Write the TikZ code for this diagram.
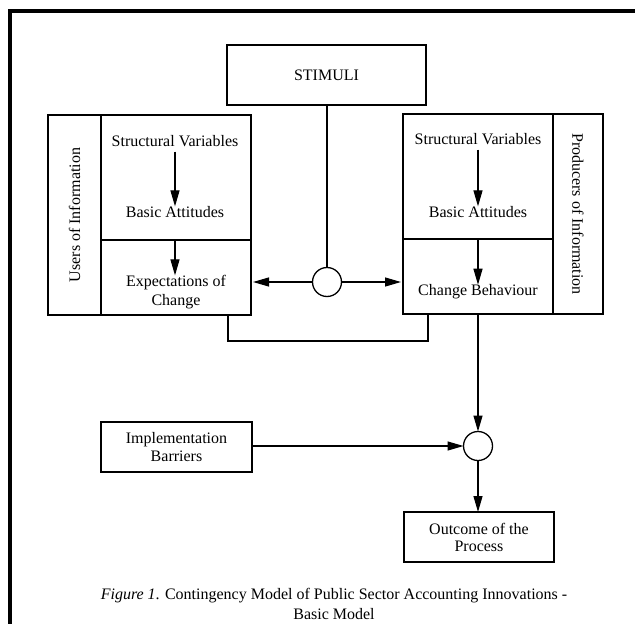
\documentclass[tikz,border=0pt]{standalone}
\usepackage{fontspec}
\setmainfont{Liberation Serif}
\usetikzlibrary{arrows.meta}
\begin{document}
\begin{tikzpicture}[x=1pt,y=-1pt,
  every node/.style={inner sep=0pt,outer sep=0pt},
  boxtxt/.style={font=\fontsize{16}{18.5}\selectfont,align=center},
  frame/.style={draw,line width=1.3pt,rectangle,anchor=north west},
  line/.style={line width=1.2pt},
  arr/.style={line width=1.2pt,-{Triangle[length=16pt,width=9pt]}},
  junction/.style={draw,line width=1.3pt,circle,minimum size=29pt,fill=white}]
\useasboundingbox (0,0) rectangle (635,624);
\fill[white] (0,0) rectangle (635,624);
\draw[line width=4pt,line join=miter] (10,624) -- (10,11) -- (635,11);

% STIMULI
\node[frame,minimum width=199pt,minimum height=60pt] (stimbox) at (227,45) {};
\node[boxtxt] (stim) at (stimbox.center) {STIMULI};

% left group
\node[frame,minimum width=53pt,minimum height=200pt] (lusers) at (48,115) {};
\node[boxtxt,rotate=90] (lusertxt) at (lusers.center) {Users of Information};
\node[frame,minimum width=150pt,minimum height=125pt] (ltop) at (101,115) {};
\node[frame,minimum width=150pt,minimum height=75pt] (lbot) at (101,240) {};
\node[boxtxt] (lsv) at (175,141) {Structural Variables};
\node[boxtxt] (lba) at (175,212) {Basic Attitudes};
\node[boxtxt] (lexp) at (176,292) {Expectations of\\Change};

% right group
\node[frame,minimum width=150pt,minimum height=125pt] (rtop) at (403,114) {};
\node[frame,minimum width=150pt,minimum height=75pt] (rbot) at (403,239) {};
\node[frame,minimum width=50pt,minimum height=200pt] (rprod) at (553,114) {};
\node[boxtxt,rotate=-90] (rprodtxt) at (rprod.center) {Producers of Information};
\node[boxtxt] (rsv) at (478,139) {Structural Variables};
\node[boxtxt] (rba) at (478,212) {Basic Attitudes};
\node[boxtxt] (rchg) at (478,292) {Change Behaviour};

% junctions
\node[junction] (c1) at (327,282) {};
\node[junction] (c2) at (478,446) {};

% lower boxes
\node[frame,minimum width=151pt,minimum height=50pt] (implbox) at (101,422) {};
\node[boxtxt] (impl) at (implbox.center) {Implementation\\Barriers};
\node[frame,minimum width=150pt,minimum height=50pt] (outbox) at (404,512) {};
\node[boxtxt,font=\fontsize{16}{17}\selectfont] (out) at (outbox.center) {Outcome of the\\Process};

% caption
\node[font=\fontsize{16}{19.5}\selectfont,align=center] (cap) at (334,604)
  {\textit{Figure 1}. Contingency Model of Public Sector Accounting Innovations -\\Basic Model};

% connectors
\draw[arr] (lsv.south -| lba) ++(0,5) -- (lba.north);
\draw[arr] (ltop.south -| lba) -- (lexp.north -| lba);
\draw[arr] (rsv.south) ++(0,5) -- (rba.north);
\draw[arr] (rtop.south -| rba) -- (rchg.north);
\draw[line] (stimbox.south -| c1) -- (c1.north);
\draw[arr] (c1.west) -- ([xshift=2pt]lbot.east |- c1);
\draw[arr] (c1.east) -- ([xshift=-2pt]rbot.west |- c1);
\coordinate (jl) at (228,341);
\coordinate (jr) at (428,341);
\draw[line] (lbot.south -| jl) -- (jl) -- (jr) -- (rbot.south -| jr);
\draw[arr] (rbot.south -| c2) -- (c2.north);
\draw[arr] (implbox.east |- c2) -- (c2.west);
\draw[arr] (c2.south) -- (outbox.north -| c2);
\end{tikzpicture}
\end{document}
